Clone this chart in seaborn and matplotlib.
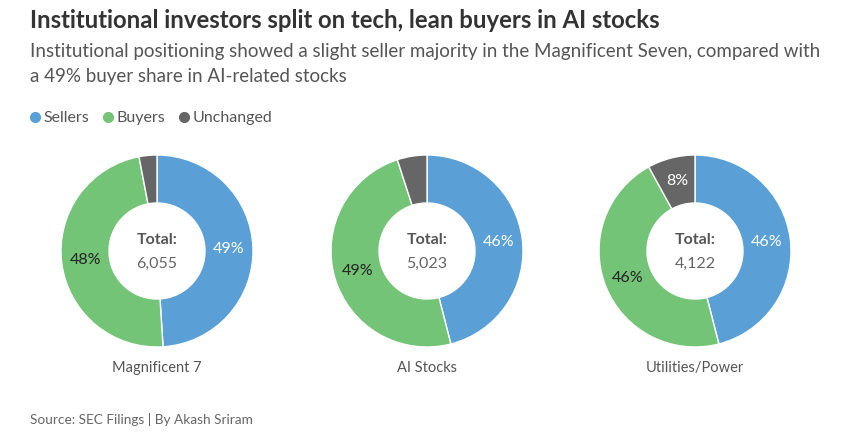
import matplotlib
matplotlib.use("Agg")
import matplotlib.pyplot as plt
from matplotlib.lines import Line2D
import numpy as np
import seaborn as sns

sns.set_theme(style="white")
plt.rcParams['font.family'] = ['Lato', 'DejaVu Sans']

groups = ["Magnificent 7", "AI Stocks", "Utilities/Power"]
totals = ["6,055", "5,023", "4,122"]
series = ["Sellers", "Buyers", "Unchanged"]
sellers = [49, 46, 46]
buyers = [48, 49, 46]
unchanged = [3, 5, 8]
colors = ["#5A9FD5", "#73C476", "#666666"]
label_colors = ["white", "#222222", "white"]

title = "Institutional investors split on tech, lean buyers in AI stocks"
subtitle = ("Institutional positioning showed a slight seller majority in the Magnificent Seven, compared with\n"
            "a 49% buyer share in AI-related stocks")
source = "Source: SEC Filings | By Akash Sriram"

W, H = 865, 445
fig = plt.figure(figsize=(W / 100, H / 100), dpi=100)
fig.patch.set_facecolor("white")

centers_x = [157, 427, 695]
cy = 251
r = 96

for i, g in enumerate(groups):
    ax = fig.add_axes([(centers_x[i] - r) / W, (H - cy - r) / H, 2 * r / W, 2 * r / H])
    vals = [sellers[i], buyers[i], unchanged[i]]
    ax.pie(vals, colors=colors, startangle=90, counterclock=False,
           radius=1.0, wedgeprops=dict(width=0.5, edgecolor="white", linewidth=1.0))
    ang0 = 90
    for j, v in enumerate(vals):
        mid = ang0 - v / 100 * 360 / 2
        ang0 -= v / 100 * 360
        if v < 6:
            continue
        x = 0.75 * np.cos(np.deg2rad(mid))
        y = 0.75 * np.sin(np.deg2rad(mid))
        ax.text(x, y, f"{v}%", ha="center", va="center", fontsize=11.5,
                color=label_colors[j])
    ax.text(0, 0.11, "Total:", ha="center", va="center", fontsize=11.5,
            fontweight="bold", color="#555555")
    ax.text(0, -0.13, totals[i], ha="center", va="center", fontsize=11.5,
            color="#666666")
    ax.set_xlim(-1, 1)
    ax.set_ylim(-1, 1)
    ax.set_aspect("equal")
    ax.axis("off")
    fig.text(centers_x[i] / W, 1 - 368 / H, g, ha="center", va="center",
             fontsize=10.5, color="#555555")

fig.text(30 / W, 1 - 21 / H, title, ha="left", va="center", fontsize=17.2,
         fontweight="bold", color="#333333")
fig.text(30 / W, 1 - 64 / H, subtitle, ha="left", va="center", fontsize=13.5,
         color="#555555", linespacing=1.6)

handles = [Line2D([0], [0], marker="o", linestyle="", markersize=7,
                  markerfacecolor=c, markeredgecolor=c) for c in colors]
fig.legend(handles, series, loc="center left", bbox_to_anchor=(21 / W, 1 - 118 / H),
           ncol=3, frameon=False, fontsize=11.5, handletextpad=0.0,
           columnspacing=0.7, handlelength=1.0, borderaxespad=0, labelcolor="#555555")

fig.text(30 / W, 1 - 419 / H, source, ha="left", va="center", fontsize=9.8,
         color="#666666")

fig.savefig("out.png", dpi=100, facecolor="white")
